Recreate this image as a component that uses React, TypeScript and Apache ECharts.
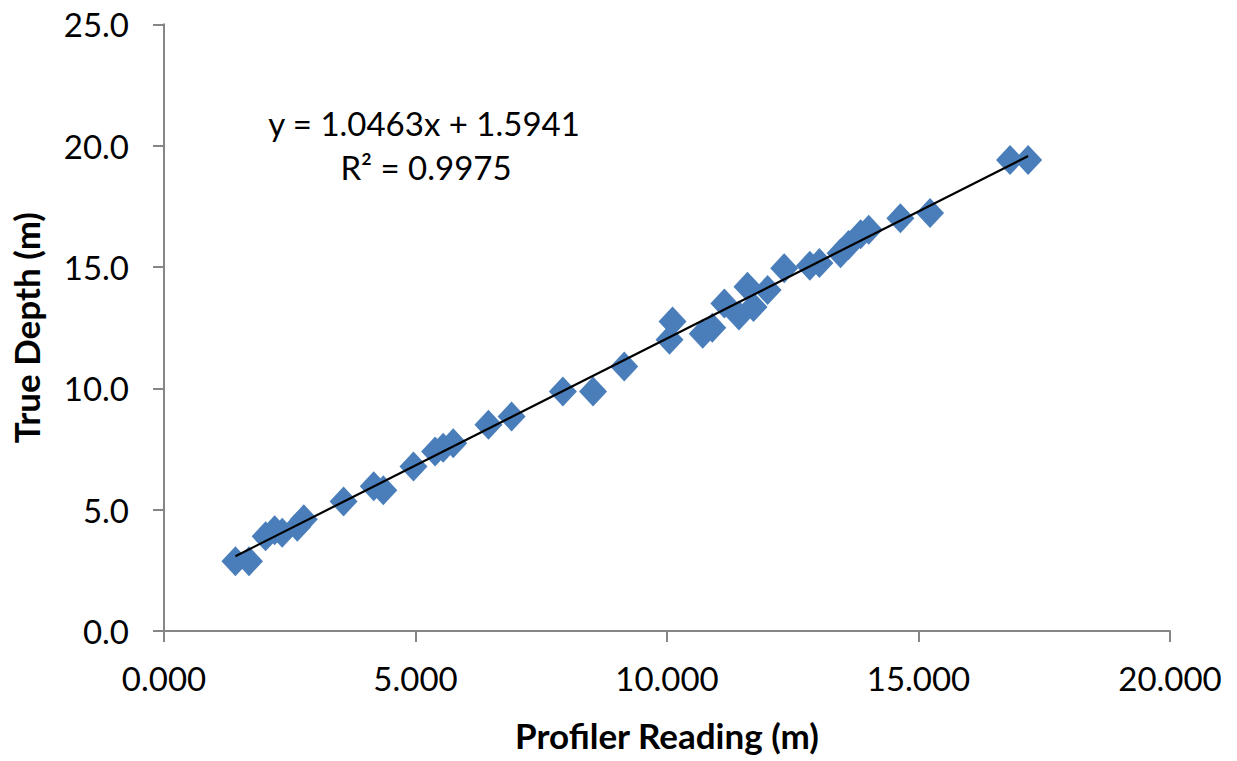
import React, { useEffect, useRef } from "react";
import * as echarts from "echarts";

// Profiler readings (m) and the matching true depths (m)
const profilerReading: number[] = [
  1.42, 1.69, 2.02, 2.2, 2.35, 2.65, 2.78, 3.57, 4.17, 4.36,
  4.96, 5.39, 5.55, 5.75, 6.45, 6.91, 7.93, 8.53, 9.15, 10.05,
  10.11, 10.71, 10.9, 11.14, 11.43, 11.6, 11.72, 12.0, 12.33, 12.84,
  13.03, 13.45, 13.61, 13.85, 14.01, 14.64, 15.23, 16.82, 17.18,
];
const trueDepth: number[] = [
  2.87, 2.87, 3.9, 4.15, 4.05, 4.3, 4.6, 5.34, 5.96, 5.8,
  6.78, 7.4, 7.55, 7.74, 8.5, 8.84, 9.87, 9.87, 10.9, 12.0,
  12.75, 12.25, 12.5, 13.5, 13.0, 14.19, 13.35, 14.05, 14.95, 15.05,
  15.16, 15.57, 15.91, 16.35, 16.53, 17.01, 17.22, 19.41, 19.41,
];

// Linear trendline coefficients
const slope = 1.0463;
const intercept = 1.5941;
const rSquared = 0.9975;

const xTicks = [0, 5, 10, 15, 20];
const yTicks = [0, 5, 10, 15, 20, 25];

const FONT = "Lato, 'Noto Sans', sans-serif";
const AXIS_GREY = "#868686";

export default function App() {
  const ref = useRef<HTMLDivElement>(null);

  useEffect(() => {
    if (!ref.current) return;
    const chart = echarts.init(ref.current, undefined, { renderer: "svg" });

    const points = profilerReading.map((x, i) => [x, trueDepth[i]]);
    const xMin = Math.min(...profilerReading);
    const xMax = Math.max(...profilerReading);
    const trend = [
      [xMin, slope * xMin + intercept],
      [xMax, slope * xMax + intercept],
    ];

    chart.setOption({
      animation: false,
      backgroundColor: "#ffffff",
      grid: { left: 161.5, right: 67, top: 24.3, bottom: 130, containLabel: false },
      xAxis: {
        type: "value",
        min: xTicks[0],
        max: xTicks[xTicks.length - 1],
        interval: 5,
        name: "Profiler Reading (m)",
        nameLocation: "middle",
        nameGap: 86,
        nameTextStyle: { fontFamily: FONT, fontSize: 35, fontWeight: "bold", color: "#000" },
        axisLine: { show: true, lineStyle: { color: AXIS_GREY, width: 2 } },
        axisTick: { show: true, length: 11, lineStyle: { color: AXIS_GREY, width: 2 } },
        axisLabel: {
          margin: 30,
          fontFamily: FONT,
          fontSize: 33,
          color: "#000",
          formatter: (v: number) => v.toFixed(3),
        },
        splitLine: { show: false },
      },
      yAxis: {
        type: "value",
        min: yTicks[0],
        max: yTicks[yTicks.length - 1],
        interval: 5,
        name: "True Depth (m)",
        nameLocation: "middle",
        nameGap: 121,
        nameTextStyle: { fontFamily: FONT, fontSize: 35, fontWeight: "bold", color: "#000" },
        axisLine: { show: true, lineStyle: { color: AXIS_GREY, width: 2 } },
        axisTick: { show: true, length: 11, lineStyle: { color: AXIS_GREY, width: 2 } },
        axisLabel: {
          margin: 35,
          fontFamily: FONT,
          fontSize: 33,
          color: "#000",
          formatter: (v: number) => v.toFixed(1),
        },
        splitLine: { show: false },
      },
      series: [
        {
          type: "scatter",
          data: points,
          symbol: "diamond",
          symbolSize: [28, 30],
          itemStyle: { color: "#4A7EBB", opacity: 1 },
          z: 2,
        },
        {
          type: "line",
          data: trend,
          symbol: "none",
          lineStyle: { color: "#000", width: 2.2 },
          z: 3,
        },
      ],
      graphic: [
        {
          type: "text",
          x: 424,
          y: 123,
          style: {
            text: `y = ${slope.toFixed(4)}x + ${intercept.toFixed(4)}`,
            font: `33px ${FONT}`,
            fill: "#000",
            align: "center",
            verticalAlign: "middle",
          },
        },
        {
          type: "text",
          x: 426,
          y: 167,
          style: {
            text: `R² = ${rSquared.toFixed(4)}`,
            font: `33px ${FONT}`,
            fill: "#000",
            align: "center",
            verticalAlign: "middle",
          },
        },
      ],
    });

    return () => chart.dispose();
  }, []);

  return (
    <div
      ref={ref}
      style={{ position: "fixed", left: 0, top: 0, width: 1237, height: 761, background: "#fff" }}
    />
  );
}
